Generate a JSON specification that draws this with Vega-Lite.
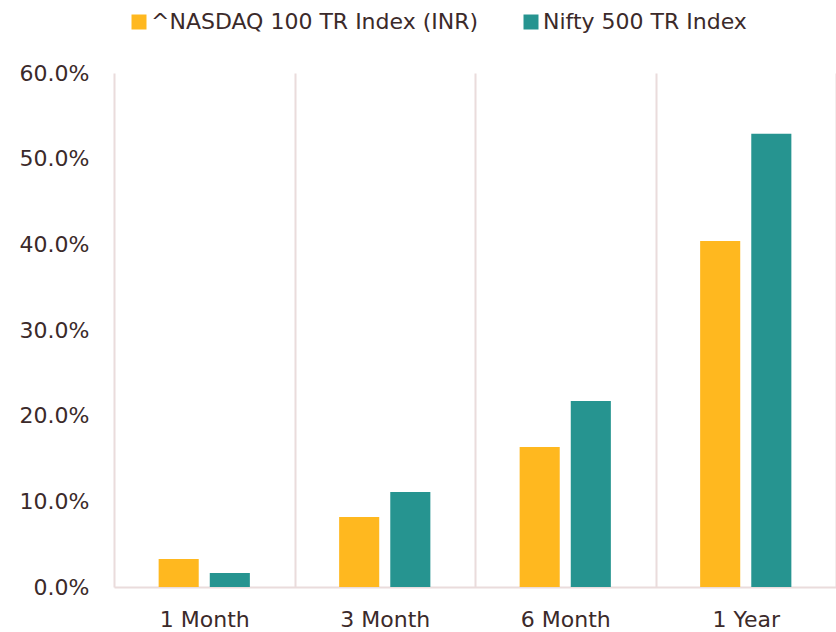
{
  "$schema": "https://vega.github.io/schema/vega-lite/v6.json",
  "width": 722,
  "height": 514,
  "autosize": "none",
  "padding": {"left": 114, "top": 73, "right": 0, "bottom": 45},
  "background": "white",
  "config": {
    "font": "DejaVu Sans",
    "view": {"stroke": null}
  },
  "data": {
    "values": [
      {"period": "1 Month", "series": "^NASDAQ 100 TR Index (INR)", "value": 0.0327},
      {"period": "1 Month", "series": "Nifty 500 TR Index", "value": 0.0162},
      {"period": "3 Month", "series": "^NASDAQ 100 TR Index (INR)", "value": 0.0817},
      {"period": "3 Month", "series": "Nifty 500 TR Index", "value": 0.1108},
      {"period": "6 Month", "series": "^NASDAQ 100 TR Index (INR)", "value": 0.1634},
      {"period": "6 Month", "series": "Nifty 500 TR Index", "value": 0.2170},
      {"period": "1 Year", "series": "^NASDAQ 100 TR Index (INR)", "value": 0.4040},
      {"period": "1 Year", "series": "Nifty 500 TR Index", "value": 0.5290}
    ]
  },
  "mark": {"type": "bar"},
  "encoding": {
    "x": {
      "field": "period",
      "type": "nominal",
      "sort": ["1 Month", "3 Month", "6 Month", "1 Year"],
      "scale": {"paddingInner": 0, "paddingOuter": 0},
      "axis": {
        "title": null,
        "labelAngle": 0,
        "grid": true,
        "tickBand": "extent",
        "gridColor": "#eadcdc",
        "gridWidth": 2,
        "domainColor": "#eadcdc",
        "domainWidth": 2,
        "ticks": false,
        "labelFontSize": 22,
        "labelPadding": 22,
        "labelColor": "#3b2a2a"
      }
    },
    "xOffset": {
      "field": "series",
      "sort": ["^NASDAQ 100 TR Index (INR)", "Nifty 500 TR Index"],
      "scale": {"paddingInner": 0.216, "paddingOuter": 0.873}
    },
    "y": {
      "field": "value",
      "type": "quantitative",
      "scale": {"domain": [0, 0.6], "nice": false},
      "axis": {
        "title": null,
        "format": ".1%",
        "values": [0, 0.1, 0.2, 0.3, 0.4, 0.5, 0.6],
        "grid": false,
        "domain": false,
        "ticks": false,
        "labelFontSize": 22,
        "labelPadding": 25,
        "labelColor": "#3b2a2a"
      }
    },
    "color": {
      "field": "series",
      "type": "nominal",
      "sort": ["^NASDAQ 100 TR Index (INR)", "Nifty 500 TR Index"],
      "scale": {"range": ["#ffb81f", "#269490"]},
      "legend": {
        "title": null,
        "orient": "none",
        "direction": "horizontal",
        "legendX": 14,
        "legendY": -62,
        "symbolType": "square",
        "symbolSize": 225,
        "symbolStrokeWidth": 0,
        "labelFontSize": 22,
        "labelColor": "#3b2a2a",
        "labelOffset": 1,
        "columnPadding": 41,
        "labelLimit": 500,
        "padding": 0
      }
    }
  }
}
